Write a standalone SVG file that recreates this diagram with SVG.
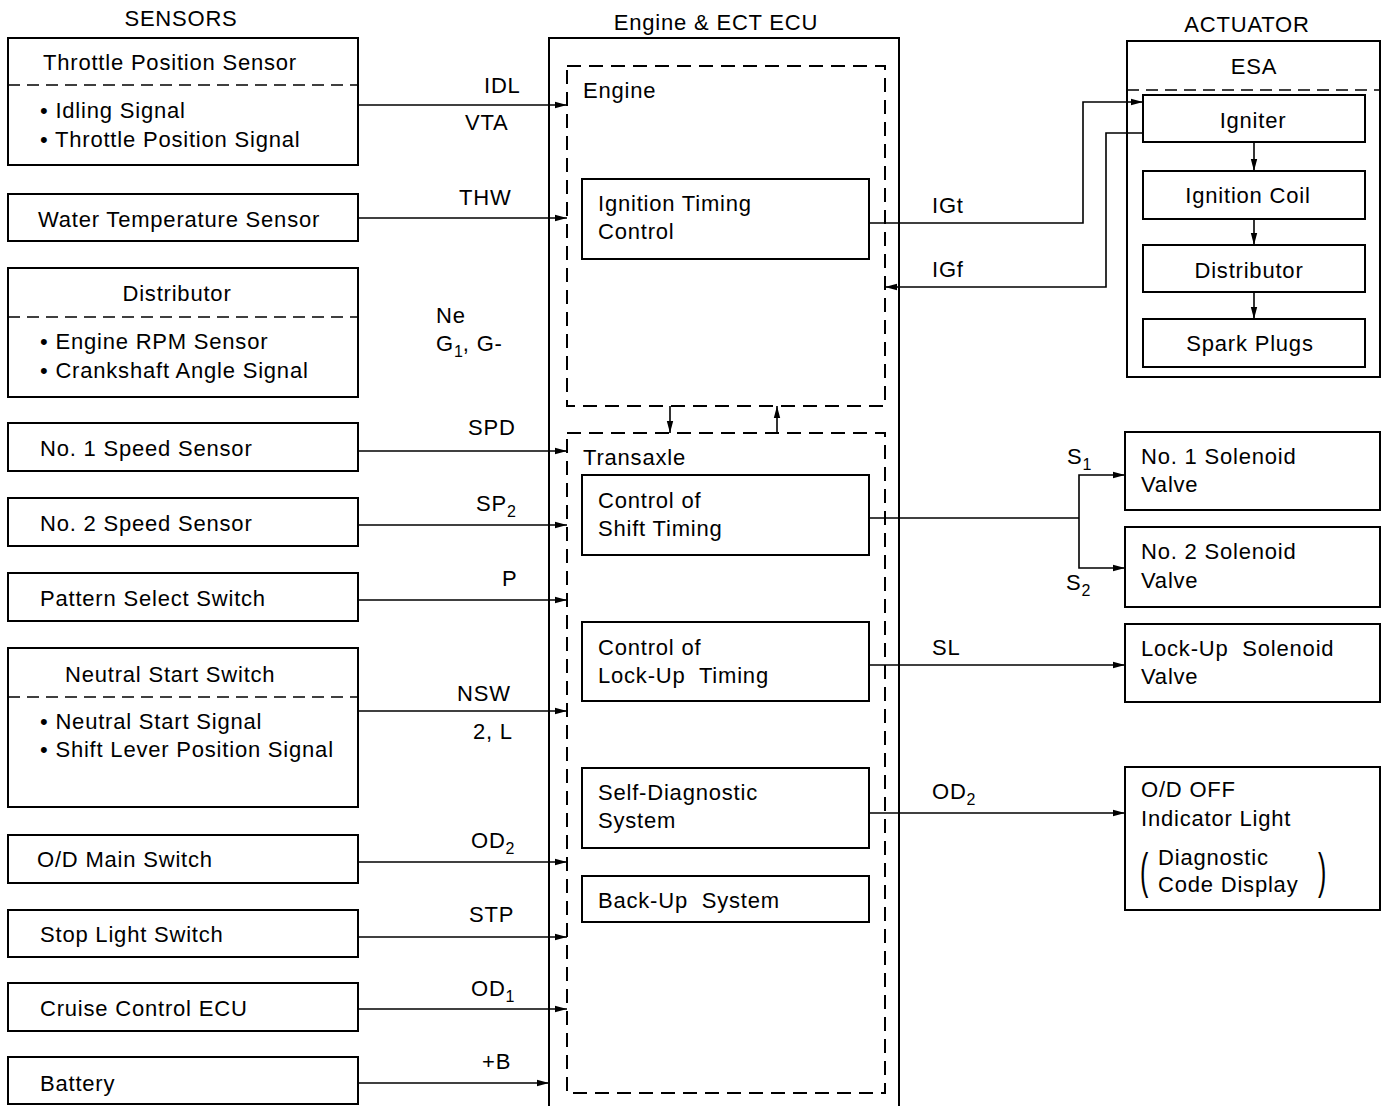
<svg xmlns="http://www.w3.org/2000/svg" width="1387" height="1106" viewBox="0 0 1387 1106">
<style>
text{font-family:"Liberation Sans",Arial,sans-serif;font-size:22px;letter-spacing:0.8px;fill:#000}
.m{text-anchor:middle}
.sub{font-size:16px;letter-spacing:0}
.box{fill:#fff;stroke:#000;stroke-width:2}
.dbox{fill:none;stroke:#000;stroke-width:2;stroke-dasharray:14,8}
.div{stroke:#000;stroke-width:1.5;stroke-dasharray:12,7}
.ln{fill:none;stroke:#000;stroke-width:1.6}
.par{font-size:50px;font-weight:100;letter-spacing:0}
</style>
<defs>
<marker id="ah" markerWidth="12" markerHeight="8" refX="12" refY="4" orient="auto" markerUnits="userSpaceOnUse">
<path d="M0,0.8 L12,4 L0,7.2 Z" fill="#000"/>
</marker>
</defs>

<text x="181" y="26" class="m">SENSORS</text>
<text x="716" y="30" class="m">Engine &amp; ECT ECU</text>
<text x="1247" y="32" class="m">ACTUATOR</text>

<g id="ecu">
<rect x="549" y="38" width="350" height="1080" class="box" fill="none"/>
</g>
<g id="engine">
<rect x="567" y="66" width="318" height="340" class="dbox"/>
<text x="583" y="98">Engine</text>
</g>
<g id="transaxle">
<rect x="567" y="433" width="318" height="660" class="dbox"/>
<text x="583" y="465">Transaxle</text>
</g>
<g id="ign-timing">
<rect x="582" y="179" width="287" height="80" class="box"/>
<text x="598" y="211">Ignition Timing</text>
<text x="598" y="239">Control</text>
</g>
<g id="shift-timing">
<rect x="582" y="475" width="287" height="80" class="box"/>
<text x="598" y="508">Control of</text>
<text x="598" y="536">Shift Timing</text>
</g>
<g id="lockup-timing">
<rect x="582" y="622" width="287" height="79" class="box"/>
<text x="598" y="655">Control of</text>
<text x="598" y="683" xml:space="preserve">Lock-Up  Timing</text>
</g>
<g id="self-diag">
<rect x="582" y="768" width="287" height="80" class="box"/>
<text x="598" y="800">Self-Diagnostic</text>
<text x="598" y="828">System</text>
</g>
<g id="backup">
<rect x="582" y="876" width="287" height="46" class="box"/>
<text x="598" y="908" xml:space="preserve">Back-Up  System</text>
</g>

<g id="throttle">
<rect x="8" y="38" width="350" height="127" class="box"/>
<line x1="8" y1="85" x2="358" y2="85" class="div"/>
<text x="43" y="70">Throttle Position Sensor</text>
<text x="40" y="118">• Idling Signal</text>
<text x="40" y="147">• Throttle Position Signal</text>
</g>
<g id="water">
<rect x="8" y="194" width="350" height="47" class="box"/>
<text x="38" y="227">Water Temperature Sensor</text>
</g>
<g id="distributor-s">
<rect x="8" y="268" width="350" height="129" class="box"/>
<line x1="8" y1="317" x2="358" y2="317" class="div"/>
<text x="177" y="301" class="m">Distributor</text>
<text x="40" y="349">• Engine RPM Sensor</text>
<text x="40" y="378">• Crankshaft Angle Signal</text>
</g>
<g id="speed1">
<rect x="8" y="423" width="350" height="48" class="box"/>
<text x="40" y="456">No. 1 Speed Sensor</text>
</g>
<g id="speed2">
<rect x="8" y="498" width="350" height="48" class="box"/>
<text x="40" y="531">No. 2 Speed Sensor</text>
</g>
<g id="pattern">
<rect x="8" y="573" width="350" height="48" class="box"/>
<text x="40" y="606">Pattern Select Switch</text>
</g>
<g id="neutral">
<rect x="8" y="648" width="350" height="159" class="box"/>
<line x1="8" y1="697" x2="358" y2="697" class="div"/>
<text x="65" y="682">Neutral Start Switch</text>
<text x="40" y="729">• Neutral Start Signal</text>
<text x="40" y="757">• Shift Lever Position Signal</text>
</g>
<g id="odmain">
<rect x="8" y="835" width="350" height="48" class="box"/>
<text x="37" y="867">O/D Main Switch</text>
</g>
<g id="stop">
<rect x="8" y="910" width="350" height="47" class="box"/>
<text x="40" y="942">Stop Light Switch</text>
</g>
<g id="cruise">
<rect x="8" y="983" width="350" height="48" class="box"/>
<text x="40" y="1016">Cruise Control ECU</text>
</g>
<g id="battery">
<rect x="8" y="1057" width="350" height="47" class="box"/>
<text x="40" y="1091">Battery</text>
</g>

<g id="esa">
<rect x="1127" y="41" width="253" height="336" class="box"/>
<line x1="1127" y1="90" x2="1380" y2="90" class="div"/>
<text x="1254" y="74" class="m">ESA</text>
</g>
<g id="igniter">
<rect x="1143" y="95" width="222" height="47" class="box"/>
<text x="1253" y="128" class="m">Igniter</text>
</g>
<g id="coil">
<rect x="1143" y="171" width="222" height="48" class="box"/>
<text x="1248" y="203" class="m">Ignition Coil</text>
</g>
<g id="distributor-a">
<rect x="1143" y="245" width="222" height="47" class="box"/>
<text x="1249" y="278" class="m">Distributor</text>
</g>
<g id="plugs">
<rect x="1143" y="319" width="222" height="48" class="box"/>
<text x="1250" y="351" class="m">Spark Plugs</text>
</g>
<g id="sol1">
<rect x="1125" y="432" width="255" height="78" class="box"/>
<text x="1141" y="464">No. 1 Solenoid</text>
<text x="1141" y="492">Valve</text>
</g>
<g id="sol2">
<rect x="1125" y="527" width="255" height="80" class="box"/>
<text x="1141" y="559">No. 2 Solenoid</text>
<text x="1141" y="588">Valve</text>
</g>
<g id="lockup-sol">
<rect x="1125" y="624" width="255" height="78" class="box"/>
<text x="1141" y="656" xml:space="preserve">Lock-Up  Solenoid</text>
<text x="1141" y="684">Valve</text>
</g>
<g id="odoff">
<rect x="1125" y="767" width="255" height="143" class="box"/>
<text x="1141" y="797">O/D OFF</text>
<text x="1141" y="826">Indicator Light</text>
<text x="1158" y="865">Diagnostic</text>
<text x="1158" y="892">Code Display</text>
<text x="1140" y="888" class="par" transform="translate(1140,888) scale(0.5,1) translate(-1140,-888)">(</text>
<text x="1318" y="888" class="par" transform="translate(1318,888) scale(0.5,1) translate(-1318,-888)">)</text>
</g>

<g id="connectors">
<line x1="358" y1="105" x2="567" y2="105" class="ln" marker-end="url(#ah)"/>
<line x1="358" y1="218" x2="567" y2="218" class="ln" marker-end="url(#ah)"/>
<line x1="358" y1="451" x2="567" y2="451" class="ln" marker-end="url(#ah)"/>
<line x1="358" y1="525" x2="567" y2="525" class="ln" marker-end="url(#ah)"/>
<line x1="358" y1="600" x2="567" y2="600" class="ln" marker-end="url(#ah)"/>
<line x1="358" y1="711" x2="567" y2="711" class="ln" marker-end="url(#ah)"/>
<line x1="358" y1="862" x2="567" y2="862" class="ln" marker-end="url(#ah)"/>
<line x1="358" y1="937" x2="567" y2="937" class="ln" marker-end="url(#ah)"/>
<line x1="358" y1="1009" x2="567" y2="1009" class="ln" marker-end="url(#ah)"/>
<line x1="358" y1="1083" x2="549" y2="1083" class="ln" marker-end="url(#ah)"/>
<line x1="670" y1="406" x2="670" y2="433" class="ln" marker-end="url(#ah)"/>
<line x1="777" y1="433" x2="777" y2="406" class="ln" marker-end="url(#ah)"/>
<polyline points="869,223 1083,223 1083,102 1143,102" class="ln" marker-end="url(#ah)"/>
<polyline points="1143,133 1106,133 1106,287 885,287" class="ln" marker-end="url(#ah)"/>
<line x1="1254" y1="142" x2="1254" y2="171" class="ln" marker-end="url(#ah)"/>
<line x1="1254" y1="219" x2="1254" y2="245" class="ln" marker-end="url(#ah)"/>
<line x1="1254" y1="292" x2="1254" y2="319" class="ln" marker-end="url(#ah)"/>
<polyline points="869,518 1079,518" class="ln"/>
<polyline points="1079,518 1079,475 1125,475" class="ln" marker-end="url(#ah)"/>
<polyline points="1079,518 1079,568 1125,568" class="ln" marker-end="url(#ah)"/>
<line x1="869" y1="665" x2="1125" y2="665" class="ln" marker-end="url(#ah)"/>
<line x1="869" y1="813" x2="1125" y2="813" class="ln" marker-end="url(#ah)"/>

<text x="484" y="93">IDL</text>
<text x="465" y="130">VTA</text>
<text x="459" y="205">THW</text>
<text x="436" y="323">Ne</text>
<text x="436" y="351">G<tspan class="sub" dy="6">1</tspan><tspan dy="-6">, G-</tspan></text>
<text x="468" y="435">SPD</text>
<text x="476" y="511">SP<tspan class="sub" dy="6">2</tspan></text>
<text x="502" y="586">P</text>
<text x="457" y="701">NSW</text>
<text x="473" y="739">2, L</text>
<text x="471" y="848">OD<tspan class="sub" dy="6">2</tspan></text>
<text x="469" y="922">STP</text>
<text x="471" y="996">OD<tspan class="sub" dy="6">1</tspan></text>
<text x="482" y="1069">+B</text>
<text x="932" y="213">IGt</text>
<text x="932" y="277">IGf</text>
<text x="1067" y="464">S<tspan class="sub" dy="6">1</tspan></text>
<text x="1066" y="590">S<tspan class="sub" dy="6">2</tspan></text>
<text x="932" y="655">SL</text>
<text x="932" y="799">OD<tspan class="sub" dy="6">2</tspan></text>
</g>
</svg>
